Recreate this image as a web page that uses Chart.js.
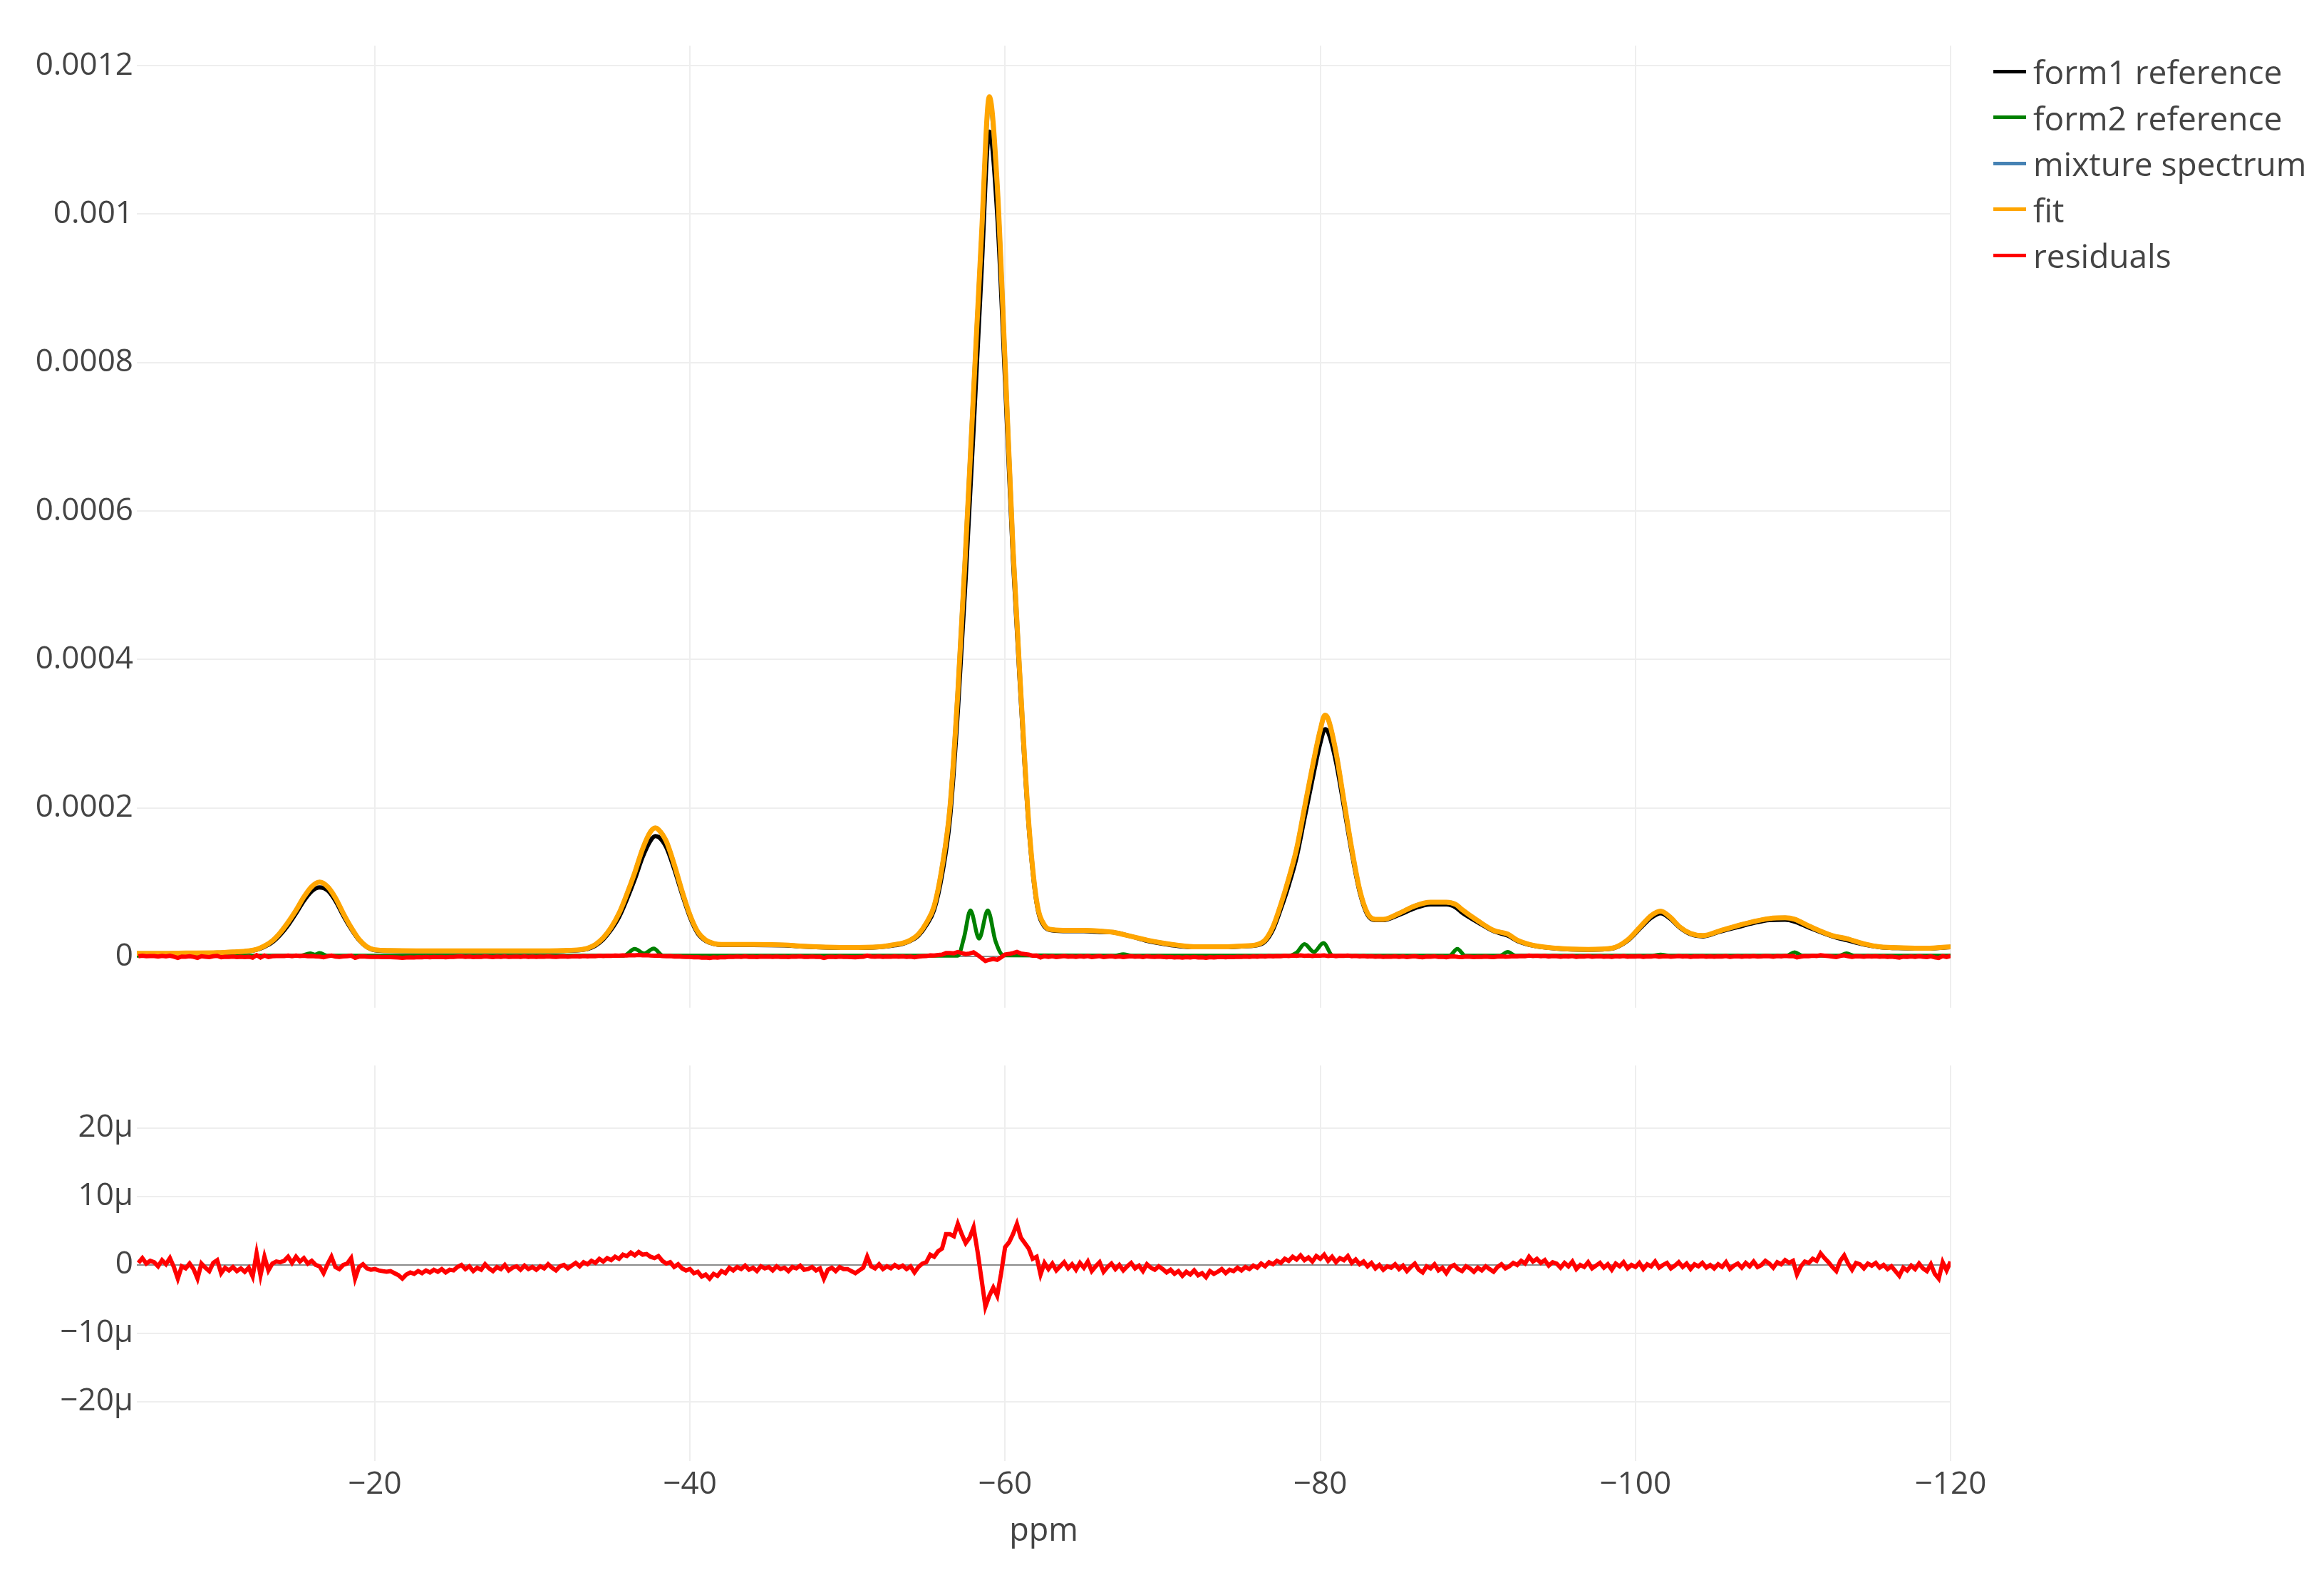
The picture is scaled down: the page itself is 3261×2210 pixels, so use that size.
<!DOCTYPE html>
<html>
<head>
<meta charset="utf-8">
<title>form1 / form2 fit of mixture spectrum</title>
<script src="https://cdn.jsdelivr.net/npm/chart.js@4.4.1/dist/chart.umd.min.js"></script>
<style>
  body { margin: 0; background: #fff; }
  #page { position: relative; width: 3261px; height: 2210px; background: #fff; font-family: 'Open Sans', sans-serif; }
  #topChart { position: absolute; left: 0; top: 0; }
  #bottomChart { position: absolute; left: 0; top: 1420px; }
  #legend { position: absolute; left: 2797px; top: 68px; }
  .legend-row { display: flex; align-items: center; height: 64.5px; }
  .legend-line { width: 46px; height: 5px; margin-right: 10px; }
  .legend-text { font-size: 46px; line-height: 1; color: #444; white-space: nowrap; }
</style>
</head>
<body>
<div id="page">
  <canvas id="topChart" width="3261" height="1450"></canvas>
  <canvas id="bottomChart" width="3261" height="790"></canvas>
  <div id="legend"></div>
</div>
<script>
// spectra are stored in micro-units (x 1e-6), ppm axis is reversed
const specPpm = [
    -4.9, -6, -8, -10, -11, -12, -12.5, -13, -13.5, -14, -14.5, -15, -15.5, -16, -16.5, -17, -17.5, -18, -18.5, -19, -19.5, -20,
    -21, -25, -30, -32, -33, -33.5, -34, -34.5, -35, -35.5, -36, -36.5, -37, -37.5, -37.8, -38, -38.5, -39, -39.5, -40,
    -40.5, -41, -41.5, -42, -44, -46, -47, -48, -50, -52, -53, -53.5, -54, -54.5, -55, -55.5, -56, -56.5, -57, -57.5,
    -58, -58.5, -59, -59.5, -60, -60.5, -61, -61.5, -62, -62.5, -63, -64, -65, -66, -67, -68, -69, -70, -71, -72,
    -73, -74, -75, -76, -76.5, -77, -77.5, -78, -78.5, -79, -79.5, -80, -80.3, -80.5, -81, -81.5, -82, -82.5, -83, -83.5,
    -84, -85, -86, -87, -88, -88.6, -89, -90, -91, -91.9, -92.5, -93.5, -95, -97, -98.5, -99.5, -100.4, -101, -101.6, -102.2,
    -102.8, -103.5, -104.3, -105.3, -106.4, -107.5, -108.5, -109.5, -110.1, -111, -112.5, -113.4, -114.5, -115.5, -117, -118.5, -120
];

const form1 = [
    3.5, 3.5, 4, 4.5, 5.5, 7, 9, 13, 19, 29, 42, 58, 75, 88, 93, 89, 75, 55, 37, 22, 12.5, 8.5,
    7.5, 7, 7, 7.5, 8.5, 10, 14.5, 23, 36, 53, 77, 104, 134, 156, 162, 161, 147, 118, 84, 53,
    31, 21, 17, 15.5, 15.5, 15, 13.5, 12.5, 11.5, 12.5, 15, 17, 21, 28, 42, 63, 110, 185, 330, 510,
    710, 920, 1111, 1000, 775, 535, 345, 175, 72, 40, 35, 34, 34, 33, 32, 27, 21, 17, 14, 12.5,
    12.5, 12.5, 13.5, 15, 20, 36, 64, 96, 134, 186, 238, 287, 306, 302, 262, 202, 140, 87, 56, 49,
    49, 56, 65, 70, 70, 66, 59, 46, 34, 28, 21, 14.5, 10.5, 9, 10.5, 21, 40, 52, 58, 51,
    39, 30, 27, 33, 39, 45, 49, 49.5, 47, 39, 27, 22, 16, 12.5, 11, 10.5, 12.5
];

const mixture = [
    4, 4, 4.5, 5, 6, 7.5, 9.5, 14, 21, 32, 46, 62, 80, 94, 100, 94, 79, 58, 39, 23, 13, 9,
    8, 7.5, 7.5, 8, 9, 11, 16, 25, 39, 58, 84, 113, 145, 168, 173, 171, 155, 124, 88, 56,
    33, 22, 17.5, 16, 16, 15.5, 14, 13, 12, 13, 16, 18, 22, 30, 45, 68, 121, 202, 359, 553,
    764, 968, 1152, 1037, 803, 554, 359, 181, 75, 42, 36, 35, 35, 34, 32, 27, 22, 18, 15, 13,
    13, 13, 14, 16, 22, 40, 70, 105, 145, 200, 255, 305, 325, 320, 275, 210, 145, 90, 58, 50,
    50, 58, 68, 73, 73, 70, 63, 48, 35, 30, 22, 15, 11, 9.5, 11, 22, 42, 55, 61, 53,
    40, 31, 28, 34, 41, 47, 51, 52, 50, 41, 28, 24, 17, 13, 11.5, 11, 13
];

const fit = [
    4, 4, 4.5, 5, 6, 7.5, 9.5, 14, 21, 32, 46, 62, 80, 94, 100, 94, 79, 58, 39, 23, 13, 9,
    8, 7.5, 7.5, 8, 9, 11, 16, 25, 39, 58, 84, 113, 145, 168, 173, 171, 155, 124, 88, 56,
    33, 22, 17.5, 16, 16, 15.5, 14, 13, 12, 13, 16, 18, 22, 30, 45, 68, 120, 200, 355, 550,
    760, 970, 1158, 1040, 800, 550, 355, 180, 75, 42, 36, 35, 35, 34, 32, 27, 22, 18, 15, 13,
    13, 13, 14, 16, 22, 40, 70, 105, 145, 200, 255, 305, 325, 320, 275, 210, 145, 90, 58, 50,
    50, 58, 68, 73, 73, 70, 63, 48, 35, 30, 22, 15, 11, 9.5, 11, 22, 42, 55, 61, 53,
    40, 31, 28, 34, 41, 47, 51, 52, 50, 41, 28, 24, 17, 13, 11.5, 11, 13
];

const form2Ppm = [
    -4.9, -15.3, -15.9, -16.2, -16.5, -17, -35.8, -36.5, -37.1, -37.7, -38.3,
    -57, -57.4, -57.8, -58.35, -58.9, -59.4, -59.9, -67, -67.5, -68,
    -78, -78.5, -79, -79.6, -80.2, -80.8, -88.2, -88.7, -89.2, -91.4, -91.9, -92.4,
    -101.1, -101.6, -102.1, -109.6, -110.1, -110.6, -112.9, -113.4, -113.9, -120
];
const form2 = [
    1, 1, 4, 2.5, 4.5, 1, 1, 10, 4, 10.5, 1,
    1, 26, 62, 24, 62, 20, 1.5, 1, 3, 1,
    1, 5, 16.5, 6, 18, 1, 1, 10, 1, 1, 6, 1,
    1, 2.5, 1, 1, 5.5, 1, 1, 4, 1, 1
];

const residPpm = [
    -5, -5.25, -5.5, -5.75, -6, -6.25, -6.5, -6.75, -7, -7.25, -7.5, -7.75, -8, -8.25, -8.5, -8.75, -9, -9.25, -9.5, -9.75,
    -10, -10.25, -10.5, -10.75, -11, -11.25, -11.5, -11.75, -12, -12.25, -12.5, -12.75, -13, -13.25, -13.5, -13.75, -14, -14.25, -14.5, -14.75,
    -15, -15.25, -15.5, -15.75, -16, -16.25, -16.5, -16.75, -17, -17.25, -17.5, -17.75, -18, -18.25, -18.5, -18.75, -19, -19.25, -19.5, -19.75,
    -20, -20.25, -20.5, -20.75, -21, -21.25, -21.5, -21.75, -22, -22.25, -22.5, -22.75, -23, -23.25, -23.5, -23.75, -24, -24.25, -24.5, -24.75,
    -25, -25.25, -25.5, -25.75, -26, -26.25, -26.5, -26.75, -27, -27.25, -27.5, -27.75, -28, -28.25, -28.5, -28.75, -29, -29.25, -29.5, -29.75,
    -30, -30.25, -30.5, -30.75, -31, -31.25, -31.5, -31.75, -32, -32.25, -32.5, -32.75, -33, -33.25, -33.5, -33.75, -34, -34.25, -34.5, -34.75,
    -35, -35.25, -35.5, -35.75, -36, -36.25, -36.5, -36.75, -37, -37.25, -37.5, -37.75, -38, -38.25, -38.5, -38.75, -39, -39.25, -39.5, -39.75,
    -40, -40.25, -40.5, -40.75, -41, -41.25, -41.5, -41.75, -42, -42.25, -42.5, -42.75, -43, -43.25, -43.5, -43.75, -44, -44.25, -44.5, -44.75,
    -45, -45.25, -45.5, -45.75, -46, -46.25, -46.5, -46.75, -47, -47.25, -47.5, -47.75, -48, -48.25, -48.5, -48.75, -49, -49.25, -49.5, -49.75,
    -50, -50.25, -50.5, -50.75, -51, -51.25, -51.5, -51.75, -52, -52.25, -52.5, -52.75, -53, -53.25, -53.5, -53.75, -54, -54.25, -54.5, -54.75,
    -55, -55.25, -55.5, -55.75, -56, -56.25, -56.5, -56.75, -57, -57.25, -57.5, -57.75, -58, -58.25, -58.5, -58.75, -59, -59.25, -59.5, -59.75,
    -60, -60.25, -60.5, -60.75, -61, -61.25, -61.5, -61.75, -62, -62.25, -62.5, -62.75, -63, -63.25, -63.5, -63.75, -64, -64.25, -64.5, -64.75,
    -65, -65.25, -65.5, -65.75, -66, -66.25, -66.5, -66.75, -67, -67.25, -67.5, -67.75, -68, -68.25, -68.5, -68.75, -69, -69.25, -69.5, -69.75,
    -70, -70.25, -70.5, -70.75, -71, -71.25, -71.5, -71.75, -72, -72.25, -72.5, -72.75, -73, -73.25, -73.5, -73.75, -74, -74.25, -74.5, -74.75,
    -75, -75.25, -75.5, -75.75, -76, -76.25, -76.5, -76.75, -77, -77.25, -77.5, -77.75, -78, -78.25, -78.5, -78.75, -79, -79.25, -79.5, -79.75,
    -80, -80.25, -80.5, -80.75, -81, -81.25, -81.5, -81.75, -82, -82.25, -82.5, -82.75, -83, -83.25, -83.5, -83.75, -84, -84.25, -84.5, -84.75,
    -85, -85.25, -85.5, -85.75, -86, -86.25, -86.5, -86.75, -87, -87.25, -87.5, -87.75, -88, -88.25, -88.5, -88.75, -89, -89.25, -89.5, -89.75,
    -90, -90.25, -90.5, -90.75, -91, -91.25, -91.5, -91.75, -92, -92.25, -92.5, -92.75, -93, -93.25, -93.5, -93.75, -94, -94.25, -94.5, -94.75,
    -95, -95.25, -95.5, -95.75, -96, -96.25, -96.5, -96.75, -97, -97.25, -97.5, -97.75, -98, -98.25, -98.5, -98.75, -99, -99.25, -99.5, -99.75,
    -100, -100.25, -100.5, -100.75, -101, -101.25, -101.5, -101.75, -102, -102.25, -102.5, -102.75, -103, -103.25, -103.5, -103.75, -104, -104.25, -104.5, -104.75,
    -105, -105.25, -105.5, -105.75, -106, -106.25, -106.5, -106.75, -107, -107.25, -107.5, -107.75, -108, -108.25, -108.5, -108.75, -109, -109.25, -109.5, -109.75,
    -110, -110.25, -110.5, -110.75, -111, -111.25, -111.5, -111.75, -112, -112.25, -112.5, -112.75, -113, -113.25, -113.5, -113.75, -114, -114.25, -114.5, -114.75,
    -115, -115.25, -115.5, -115.75, -116, -116.25, -116.5, -116.75, -117, -117.25, -117.5, -117.75, -118, -118.25, -118.5, -118.75, -119, -119.25, -119.5, -119.75,
    -120
];

const residuals = [
    0.3, 1.0, 0.2, 0.6, 0.4, -0.2, 0.7, 0.1, 1.0, -0.3, -2.0, -0.2, -0.5, 0.2, -0.6, -2.0, 0.2, -0.4, -0.9, 0.3,
    0.7, -1.2, -0.4, -0.8, -0.3, -0.9, -0.5, -1.0, -0.4, -1.7, 1.7, -1.5, 1.2, -0.8, 0.2, 0.5, 0.4, 0.6, 1.2, 0.3,
    1.2, 0.5, 1.0, 0.2, 0.6, 0.0, -0.2, -1.2, 0.1, 1.2, -0.3, -0.6, 0.0, 0.2, 1.0, -2.0, -0.3, 0.1, -0.5, -0.7,
    -0.6, -0.8, -0.9, -1.0, -0.9, -1.2, -1.5, -2.0, -1.4, -1.1, -1.3, -0.9, -1.2, -0.8, -1.1, -0.7, -1.0, -0.6, -1.1, -0.7,
    -0.8, -0.3, 0.0, -0.6, -0.2, -0.9, -0.4, -0.7, 0.1, -0.5, -0.9, -0.3, -0.6, 0.0, -0.8, -0.4, -0.2, -0.7, -0.1, -0.6,
    -0.3, -0.7, -0.2, -0.5, 0.1, -0.4, -0.8, -0.2, 0.0, -0.5, -0.1, 0.3, -0.2, 0.4, 0.1, 0.6, 0.3, 0.9, 0.5, 1.0,
    0.7, 1.2, 0.9, 1.5, 1.3, 1.8, 1.4, 1.9, 1.5, 1.6, 1.2, 1.0, 1.3, 0.6, 0.2, 0.4, -0.3, 0.1, -0.5, -0.8,
    -0.6, -1.2, -1.0, -1.7, -1.4, -2.0, -1.3, -1.6, -0.9, -1.2, -0.4, -0.8, -0.3, -0.6, -0.1, -0.7, -0.4, -0.9, -0.2, -0.5,
    -0.3, -0.8, -0.2, -0.6, -0.4, -0.9, -0.3, -0.5, -0.1, -0.7, -0.6, -0.3, -0.8, -0.5, -2.0, -0.7, -0.4, -0.9, -0.3, -0.6,
    -0.6, -0.9, -1.2, -0.8, -0.4, 1.2, -0.2, -0.5, 0.1, -0.6, -0.2, -0.5, 0.0, -0.4, -0.1, -0.6, -0.2, -1.1, -0.3, 0.2,
    0.4, 1.5, 1.2, 2.0, 2.4, 4.5, 4.5, 4.2, 6.0, 4.5, 3.2, 4.0, 5.5, 2.0, -2.0, -6.1, -4.5, -3.3, -4.5, -1.2,
    2.6, 3.3, 4.5, 6.0, 4.0, 3.2, 2.4, 0.9, 1.2, -1.4, 0.3, -0.6, 0.2, -0.8, -0.2, 0.4, -0.5, 0.1, -0.7, 0.3,
    -0.4, 0.5, -0.9, -0.2, 0.4, -1.0, -0.3, 0.2, -0.6, 0.0, -0.8, -0.2, 0.3, -0.5, -0.1, -0.9, 0.1, -0.4, -0.7, -0.2,
    -0.6, -1.1, -0.7, -1.3, -0.9, -1.6, -1.0, -1.4, -0.8, -1.5, -1.2, -1.8, -0.9, -1.3, -1.0, -0.6, -1.2, -0.7, -0.9, -0.4,
    -0.8, -0.3, -0.6, -0.1, -0.4, 0.2, -0.2, 0.4, 0.1, 0.6, 0.3, 0.9, 0.6, 1.2, 0.8, 1.4, 0.7, 1.1, 0.5, 1.3,
    0.9, 1.5, 0.6, 1.2, 0.4, 1.0, 0.7, 1.3, 0.3, 0.8, 0.1, 0.5, -0.2, 0.3, -0.5, 0.0, -0.7, -0.2, -0.4, 0.1,
    -0.6, -0.1, -0.9, -0.3, 0.2, -0.7, -1.1, -0.2, -0.5, 0.1, -0.8, -0.4, -1.2, -0.3, 0.0, -0.6, -0.9, -0.2, -0.5, -1.0,
    -0.4, -0.8, -0.2, -0.6, -1.0, -0.3, 0.1, -0.5, -0.2, 0.3, 0.0, 0.6, 0.2, 1.2, 0.5, 0.9, 0.3, 0.7, -0.1, 0.4,
    0.2, -0.4, 0.3, -0.2, 0.5, -0.6, 0.0, -0.3, 0.4, -0.5, -0.1, 0.3, -0.4, 0.1, -0.7, 0.2, -0.2, 0.4, -0.5, 0.0,
    -0.3, 0.3, -0.6, 0.1, -0.2, 0.5, -0.4, 0.0, 0.3, -0.5, -0.1, 0.4, -0.3, 0.2, -0.6, 0.1, -0.2, 0.3, -0.4, 0.0,
    -0.5, 0.1, -0.3, 0.4, -0.6, -0.1, 0.2, -0.4, 0.3, -0.2, 0.5, -0.3, 0.0, 0.6, 0.2, -0.4, 0.4, 0.1, 0.7, 0.3,
    0.6, -1.4, -0.2, 0.5, 0.3, 0.9, 0.6, 1.7, 1.0, 0.4, -0.3, -0.9, 0.6, 1.4, 0.2, -0.7, 0.3, 0.1, -0.5, 0.2,
    -0.1, 0.3, -0.4, 0.0, -0.6, -0.2, -0.9, -1.6, -0.4, -0.8, -0.1, -0.6, 0.2, -0.5, -0.9, 0.1, -1.3, -2.0, 0.4, -0.8,
    0.5
];

const xTickValues = [-120, -100, -80, -60, -40, -20];
const xTickLabels = ['\u2212120', '\u2212100', '\u221280', '\u221260', '\u221240', '\u221220'];
const topTickValues = [0, 0.0002, 0.0004, 0.0006, 0.0008, 0.001, 0.0012];
const topTickLabels = ['0', '0.0002', '0.0004', '0.0006', '0.0008', '0.001', '0.0012'];
const bottomTickValues = [-20, -10, 0, 10, 20];
const bottomTickLabels = ['\u221220\u03bc', '\u221210\u03bc', '0', '10\u03bc', '20\u03bc'];

const MICRO = 1e-6;
const AXIS_WIDTH = 192;
const RIGHT_PAD = 524;
const GRID = '#eeeeee';
const ZERO_LINE = '#8c8c8c';

Chart.defaults.font.family = "'Open Sans', sans-serif";
Chart.defaults.color = '#444';

function toPoints(xs, ys, factor) {
    if (xs.length !== ys.length) {
        throw new Error('length mismatch ' + xs.length + ' / ' + ys.length);
    }
    return xs.map((x, i) => ({ x: x, y: ys[i] * factor }));
}

function lineSet(label, xs, ys, factor, color, width, order, smooth) {
    return {
        label: label,
        data: toPoints(xs, ys, factor),
        borderColor: color,
        backgroundColor: color,
        borderWidth: width,
        pointRadius: 0,
        fill: false,
        order: order,
        tension: 0,
        cubicInterpolationMode: smooth ? 'monotone' : 'default'
    };
}

function gridColor(c) {
    return c.tick && c.tick.value === 0 ? ZERO_LINE : GRID;
}

function ppmAxis(showLabels) {
    return {
        type: 'linear',
        reverse: true,
        min: -120,
        max: -4.9,
        afterBuildTicks: (s) => { s.ticks = xTickValues.map(v => ({ value: v })); },
        ticks: {
            display: showLabels,
            autoSkip: false,
            maxRotation: 0,
            padding: 7,
            font: { size: 44 },
            callback: (v, i) => xTickLabels[i]
        },
        grid: { color: GRID, lineWidth: 2, drawTicks: false },
        border: { display: false },
        title: { display: showLabels, text: 'ppm', font: { size: 45 }, padding: { top: 0, bottom: 34 } },
        afterFit: (s) => { s.height = showLabels ? 160 : 0; }
    };
}

const topChart = new Chart(document.getElementById('topChart'), {
    type: 'line',
    data: {
        datasets: [
            lineSet('form1 reference', specPpm, form1, MICRO, '#000000', 6, 4, true),
            lineSet('form2 reference', form2Ppm, form2, MICRO, '#008000', 5.5, 3, true),
            lineSet('mixture spectrum', specPpm, mixture, MICRO, '#4682b4', 6, 2, true),
            lineSet('fit', specPpm, fit, MICRO, '#ffa500', 7, 1, true),
            lineSet('residuals', residPpm, residuals, MICRO, '#ff0000', 6, 0, false)
        ]
    },
    options: {
        responsive: false,
        animation: false,
        devicePixelRatio: 1,
        layout: { padding: { left: 0, right: RIGHT_PAD, top: 64, bottom: 36 } },
        plugins: { legend: { display: false }, tooltip: { enabled: false } },
        scales: {
            x: ppmAxis(false),
            y: {
                min: -0.0000691,
                max: 0.0012269,
                afterBuildTicks: (s) => { s.ticks = topTickValues.map(v => ({ value: v })); },
                ticks: { autoSkip: false, padding: 5, font: { size: 44 }, callback: (v, i) => topTickLabels[i] },
                grid: { color: gridColor, lineWidth: 2, drawTicks: false },
                border: { display: false },
                afterFit: (s) => { s.width = AXIS_WIDTH; }
            }
        }
    }
});

const bottomChart = new Chart(document.getElementById('bottomChart'), {
    type: 'line',
    data: {
        datasets: [
            lineSet('residuals', residPpm, residuals, 1, '#ff0000', 6, 0, false)
        ]
    },
    options: {
        responsive: false,
        animation: false,
        devicePixelRatio: 1,
        layout: { padding: { left: 0, right: RIGHT_PAD, top: 75, bottom: 0 } },
        plugins: { legend: { display: false }, tooltip: { enabled: false } },
        scales: {
            x: ppmAxis(true),
            y: {
                min: -28.65,
                max: 29.16,
                afterBuildTicks: (s) => { s.ticks = bottomTickValues.map(v => ({ value: v })); },
                ticks: { autoSkip: false, padding: 5, font: { size: 44 }, callback: (v, i) => bottomTickLabels[i] },
                grid: { color: gridColor, lineWidth: 2, drawTicks: false },
                border: { display: false },
                afterFit: (s) => { s.width = AXIS_WIDTH; }
            }
        }
    }
});

// legend in the original trace order, built from the chart's own datasets
const legend = document.getElementById('legend');
topChart.data.datasets.forEach(ds => {
    const row = document.createElement('div');
    row.className = 'legend-row';
    const swatch = document.createElement('div');
    swatch.className = 'legend-line';
    swatch.style.background = ds.borderColor;
    const text = document.createElement('span');
    text.className = 'legend-text';
    text.textContent = ds.label;
    row.appendChild(swatch);
    row.appendChild(text);
    legend.appendChild(row);
});
</script>
</body>
</html>
